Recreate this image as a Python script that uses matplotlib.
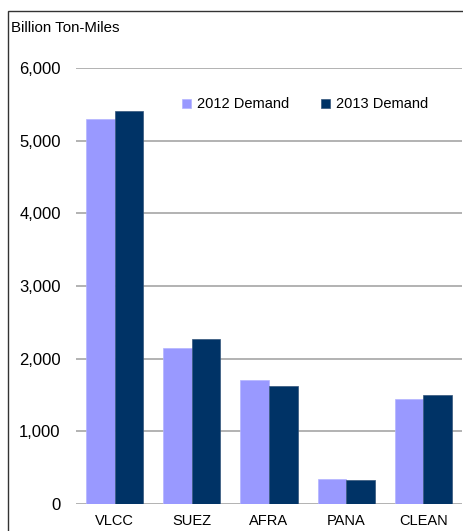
import matplotlib.pyplot as plt
from matplotlib.patches import Rectangle
import numpy as np

categories = ['VLCC', 'SUEZ', 'AFRA', 'PANA', 'CLEAN']
demand_2012 = [5300, 2140, 1700, 345, 1450]
demand_2013 = [5410, 2265, 1620, 335, 1495]
yticks = [0, 1000, 2000, 3000, 4000, 5000, 6000]

light = '#9999FF'
navy = '#003366'

plt.rcParams['font.family'] = ['Liberation Sans', 'DejaVu Sans']

fig = plt.figure(figsize=(4.64, 5.31), dpi=100)
ax = fig.add_axes([76 / 464, 1 - 504 / 531, (462 - 76) / 464, (504 - 68) / 531])

x = np.arange(len(categories))
w = 0.37
ax.bar(x - w / 2, demand_2012, w, color=light, edgecolor='#b3b3ff', linewidth=0.5,
       label='2012 Demand', zorder=3)
ax.bar(x + w / 2, demand_2013, w, color=navy, edgecolor='#34557a', linewidth=0.5,
       label='2013 Demand', zorder=3)

ax.set_xlim(-0.5, len(categories) - 0.5)
ax.set_ylim(0, 6000)
ax.set_yticks(yticks)
ax.set_yticklabels([f'{v:,}' for v in yticks], fontsize=12)
ax.set_xticks(x)
ax.set_xticklabels(categories, fontsize=10.5, family=['Liberation Sans Narrow', 'Liberation Sans'])
ax.tick_params(axis='y', length=0, pad=11)
ax.tick_params(axis='x', length=0, pad=7)
ax.yaxis.grid(True, color='#a6a6a6', linewidth=1.2, zorder=0)
for s in ax.spines.values():
    s.set_visible(False)

leg = ax.legend(ncol=2, frameon=False, fontsize=10.5, loc='upper left',
                bbox_to_anchor=(0.26, 0.946), handlelength=0.6, handleheight=0.6,
                handletextpad=0.4, columnspacing=2.2, borderaxespad=0)

fig.text(11 / 464, 1 - 28 / 531, 'Billion Ton-Miles', fontsize=10.8, va='center', ha='left')

# outer frame, open to the right and bottom
fig.add_artist(Rectangle((8 / 464, -0.1), 1.2, 1 - 11 / 531 + 0.1, transform=fig.transFigure,
                         fill=False, edgecolor='#333333', linewidth=1))

fig.savefig('out.png', dpi=100)
